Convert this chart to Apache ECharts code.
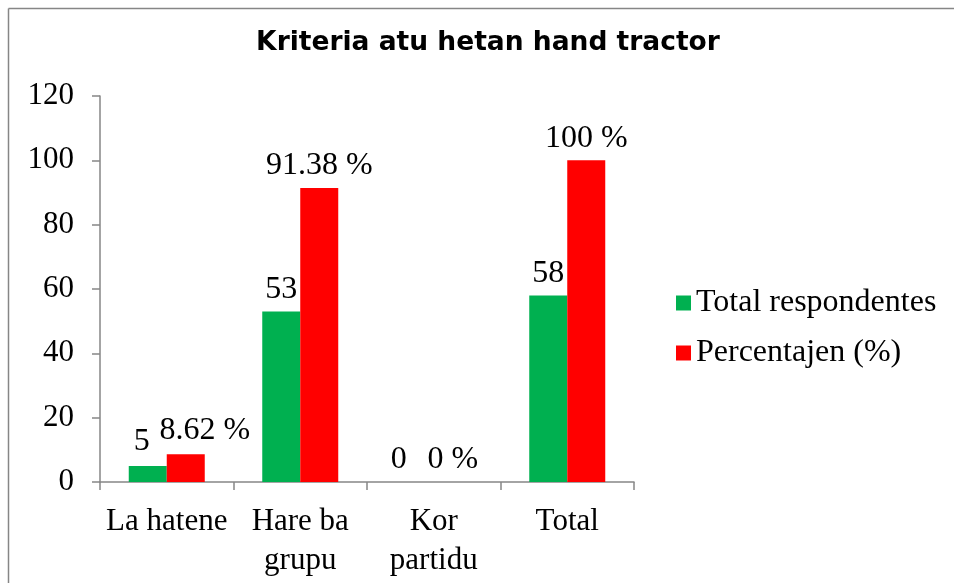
<!DOCTYPE html>
<html><head><meta charset="utf-8">
<script src="https://cdn.jsdelivr.net/npm/echarts@6/dist/echarts.min.js"></script>
<style>html,body{margin:0;padding:0;background:#fff}#c{width:954px;height:583px}</style>
</head><body><div id="c"></div>
<script>
const categories = ['La hatene', 'Hare ba\ngrupu', 'Kor\npartidu', 'Total'];
const totalRespondentes = [5, 53, 0, 58];
const percentajen = [8.62, 91.38, 0, 100];
const yTicks = [0, 20, 40, 60, 80, 100, 120];
const seriesNames = ['Total respondentes', 'Percentajen (%)'];
const titleText = 'Kriteria atu hetan hand tractor';

const serif = '"Liberation Serif", "Times New Roman", serif';
const greenOffsets = [[-6, -2], [0, 0], [-16, 0], [0, 0]];
const redOffsets = [[19, -2], [0, 0], [0, 0], [0, 0]];

const chart = echarts.init(document.getElementById('c'), null, {renderer: 'canvas'});
chart.setOption({
  animation: false,
  backgroundColor: '#fff',
  title: {
    text: titleText, left: 488, textAlign: 'center', top: 30, padding: 0,
    textStyle: {fontFamily: '"DejaVu Sans", sans-serif', fontWeight: 'bold', fontSize: 26.5, color: '#000'}
  },
  graphic: [
    {type: 'line', shape: {x1: 8.5, y1: 8.5, x2: 954, y2: 8.5}, style: {stroke: '#868686', lineWidth: 1.5}},
    {type: 'line', shape: {x1: 8.5, y1: 8.5, x2: 8.5, y2: 583}, style: {stroke: '#868686', lineWidth: 1.5}}
  ],
  legend: {
    orient: 'vertical', left: 676, top: 287, padding: 0, itemWidth: 15, itemHeight: 15, itemGap: 18,
    icon: 'rect',
    textStyle: {fontFamily: serif, fontSize: 32, color: '#000', lineHeight: 32},
    data: seriesNames
  },
  grid: {left: 100, right: 320, top: 96, bottom: 101, containLabel: false},
  xAxis: {
    type: 'category', data: categories,
    axisLine: {lineStyle: {color: '#868686', width: 1.5}},
    axisTick: {show: true, length: 8, alignWithLabel: false, lineStyle: {color: '#868686', width: 1.5}},
    axisLabel: {fontFamily: serif, fontSize: 31, color: '#000', margin: 20, lineHeight: 39, interval: 0}
  },
  yAxis: {
    type: 'value', min: yTicks[0], max: yTicks[yTicks.length - 1], interval: 20,
    axisLine: {show: true, lineStyle: {color: '#868686', width: 1.5}},
    axisTick: {show: true, length: 8, lineStyle: {color: '#868686', width: 1.5}},
    splitLine: {show: false},
    axisLabel: {fontFamily: serif, fontSize: 31, color: '#000', margin: 26}
  },
  series: [
    {
      name: seriesNames[0], type: 'bar', barWidth: 38, barGap: '0%',
      itemStyle: {color: '#00B050'},
      data: totalRespondentes.map((v, i) => ({value: v, label: {offset: greenOffsets[i]}})),
      label: {show: true, position: 'top', distance: 6, fontFamily: serif, fontSize: 32, color: '#000', formatter: '{c}'}
    },
    {
      name: seriesNames[1], type: 'bar', barWidth: 38,
      itemStyle: {color: '#FF0000'},
      data: percentajen.map((v, i) => ({value: v, label: {offset: redOffsets[i]}})),
      label: {show: true, position: 'top', distance: 6, fontFamily: serif, fontSize: 32, color: '#000', formatter: '{c} %'}
    }
  ]
});
</script></body></html>
